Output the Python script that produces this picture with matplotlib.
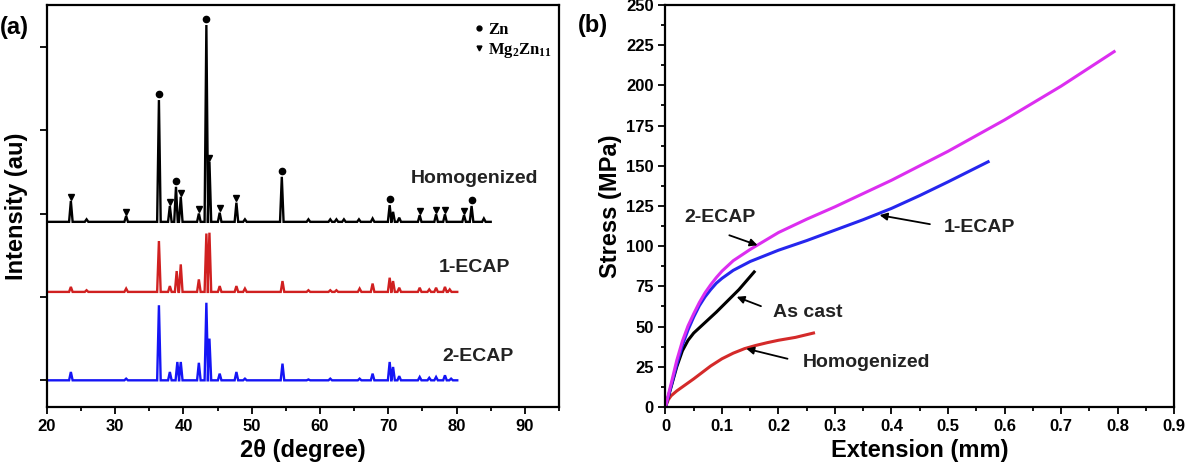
import matplotlib
matplotlib.use("Agg")
import matplotlib.pyplot as plt
from matplotlib.lines import Line2D
from matplotlib.ticker import MultipleLocator

plt.rcParams['font.family'] = ['Liberation Sans', 'DejaVu Sans']
plt.rcParams['font.weight'] = 'bold'
plt.rcParams['mathtext.fontset'] = 'custom'
plt.rcParams['mathtext.rm'] = 'Liberation Serif:bold'
plt.rcParams['mathtext.it'] = 'Liberation Serif:bold'
plt.rcParams['mathtext.bf'] = 'Liberation Serif:bold'

# ---------------------------------------------------------------------------
# (a) XRD peak lists: 2theta position, intensity above the pattern baseline
# ---------------------------------------------------------------------------
hom_base = 1.90
hom_end = 85.0
hom_pos = [23.5, 25.8, 31.6, 36.4, 38.0, 38.9, 39.6, 42.25, 43.35, 43.8, 45.3,
           47.75, 49.0, 54.4, 58.3, 61.5, 62.4, 63.5, 65.7, 67.7, 70.2, 70.7,
           71.6, 74.6, 77.0, 78.3, 81.1, 82.2, 84.0]
hom_int = [0.25, 0.03, 0.07, 1.46, 0.19, 0.42, 0.30, 0.10, 2.36, 0.72, 0.11,
           0.23, 0.03, 0.54, 0.03, 0.03, 0.03, 0.03, 0.03, 0.04, 0.20, 0.12,
           0.05, 0.08, 0.09, 0.09, 0.08, 0.19, 0.04]

ecap1_base = 1.06
ecap1_end = 80.1
ecap1_pos = [23.5, 25.8, 31.6, 36.4, 38.0, 39.0, 39.6, 42.25, 43.35, 43.8, 45.3,
             47.75, 49.0, 54.5, 58.3, 61.5, 62.4, 65.8, 67.7, 70.2, 70.7, 71.6,
             74.6, 76.0, 77.0, 78.3, 79.0]
ecap1_int = [0.06, 0.02, 0.04, 0.61, 0.07, 0.25, 0.33, 0.15, 0.70, 0.71, 0.07,
             0.07, 0.04, 0.13, 0.02, 0.02, 0.02, 0.04, 0.10, 0.17, 0.13, 0.05,
             0.05, 0.03, 0.05, 0.06, 0.03]

ecap2_base = 0.0
ecap2_end = 80.1
ecap2_pos = [23.5, 31.6, 36.4, 38.0, 39.1, 39.6, 42.25, 43.35, 43.8, 45.3,
             47.75, 49.0, 54.5, 58.3, 61.5, 65.8, 67.7, 70.2, 70.7, 71.6,
             74.6, 76.0, 77.0, 78.3, 79.2]
ecap2_int = [0.10, 0.02, 0.90, 0.10, 0.22, 0.22, 0.21, 0.93, 0.50, 0.08,
             0.10, 0.02, 0.20, 0.01, 0.02, 0.02, 0.08, 0.22, 0.16, 0.05,
             0.04, 0.03, 0.04, 0.06, 0.02]

zn_peaks = [36.4, 38.9, 43.35, 54.4, 70.2, 82.2]
mg_peaks = [23.5, 31.6, 38.0, 39.6, 42.25, 43.8, 45.3, 47.75, 74.6, 77.0,
            78.3, 81.1]

# ---------------------------------------------------------------------------
# (b) tensile curves (extension mm, stress MPa)
# ---------------------------------------------------------------------------
hom_x = [0, 0.005, 0.01, 0.02, 0.03, 0.05, 0.065, 0.08, 0.1, 0.12, 0.14,
         0.16, 0.18, 0.2, 0.23, 0.262]
hom_y = [0, 4.5, 7, 10, 12.5, 17.5, 21.5, 25.5, 30, 33.5, 36.3, 38.3, 40,
         41.5, 43.3, 46]
cast_x = [0, 0.01, 0.02, 0.03, 0.04, 0.05, 0.07, 0.09, 0.11, 0.13, 0.157]
cast_y = [0, 12.5, 25, 35, 41.5, 46, 52.5, 59, 66, 73, 84]
e1_x = [0, 0.005, 0.01, 0.02, 0.03, 0.04, 0.05, 0.06, 0.07, 0.08, 0.09, 0.1,
        0.12, 0.15, 0.2, 0.25, 0.3, 0.35, 0.4, 0.45, 0.5, 0.571]
e1_y = [0, 6.5, 13, 26.5, 38.5, 48, 56, 63, 68.5, 73, 77, 80, 85, 90.5, 97.5,
        103.5, 110, 116.5, 123.5, 131.5, 140, 152.5]
e2_x = [0, 0.005, 0.01, 0.02, 0.03, 0.04, 0.05, 0.06, 0.07, 0.08, 0.09, 0.1,
        0.12, 0.15, 0.2, 0.25, 0.3, 0.4, 0.5, 0.6, 0.7, 0.794]
e2_y = [0, 7.5, 14.5, 29, 41, 50.5, 58, 65, 71, 76, 80.5, 84.5, 91, 98,
        108.5, 116.8, 124.5, 141, 159, 178.5, 199.5, 221]


def stick_profile(pos, inten, base, end, w=0.26):
    """Baseline from 20 deg to `end` with a narrow triangular peak per entry."""
    xs, ys = [20.0], [base]
    for p, h in sorted(zip(pos, inten)):
        xs += [p - w, p, p + w]
        ys += [base, base + h, base]
    xs.append(end)
    ys.append(base)
    return xs, ys


def style_axes(ax):
    for s in ax.spines.values():
        s.set_linewidth(1.6)
    ax.tick_params(which='both', direction='out', width=1.3, labelsize=12)
    ax.tick_params(which='major', length=5)
    ax.tick_params(which='minor', length=3)
    for lab in ax.get_xticklabels() + ax.get_yticklabels():
        lab.set_fontweight('bold')


fig = plt.figure(figsize=(11.86, 4.66), dpi=100)
ax_a = fig.add_axes([0.0396, 0.1266, 0.4317, 0.8627])
ax_b = fig.add_axes([0.5611, 0.1266, 0.4288, 0.8627])

# ---- panel (a) ----
for pos, inten, base, end, col in [
        (hom_pos, hom_int, hom_base, hom_end, 'black'),
        (ecap1_pos, ecap1_int, ecap1_base, ecap1_end, '#d02020'),
        (ecap2_pos, ecap2_int, ecap2_base, ecap2_end, '#1515f5')]:
    xs, ys = stick_profile(pos, inten, base, end)
    ax_a.plot(xs, ys, color=col, lw=1.7, solid_joinstyle='miter')

zn_y = [hom_base + hom_int[hom_pos.index(p)] + 0.07 for p in zn_peaks]
mg_y = [hom_base + hom_int[hom_pos.index(p)] + 0.05 for p in mg_peaks]
ax_a.plot(zn_peaks, zn_y, 'o', color='black', ms=4.5, ls='none')
ax_a.plot(mg_peaks, mg_y, 'v', color='black', ms=4.5, ls='none')

for txt, x, y in [('Homogenized', 82.6, 2.42), ('1-ECAP', 82.6, 1.35),
                  ('2-ECAP', 83.2, 0.29)]:
    ax_a.text(x, y, txt, ha='center', va='center', fontsize=14,
              fontweight='bold', color='#222222')

handles = [
    Line2D([0], [0], marker='o', color='black', ls='none', ms=3.5, label='Zn'),
    Line2D([0], [0], marker='v', color='black', ls='none', ms=3.5,
           label=r'Mg$_{2}$Zn$_{11}$'),
]
ax_a.legend(handles=handles, loc='upper right', bbox_to_anchor=(1.0, 0.975),
            frameon=False, handlelength=0.5, handletextpad=0.3,
            labelspacing=0.2, borderaxespad=0.0,
            prop={'family': 'Liberation Serif', 'weight': 'bold', 'size': 12})

ax_a.set_xlim(20, 95)
ax_a.set_ylim(-0.32, 4.5)
ax_a.xaxis.set_major_locator(MultipleLocator(10))
ax_a.xaxis.set_minor_locator(MultipleLocator(5))
ax_a.set_yticks([0, 1, 2, 3, 4])
ax_a.set_yticklabels([])
ax_a.set_xlabel('2θ (degree)', fontsize=17, fontweight='bold', labelpad=4)
ax_a.set_ylabel('Intensity (au)', fontsize=17, fontweight='bold', labelpad=5)
style_axes(ax_a)

# ---- panel (b) ----
ax_b.plot(hom_x, hom_y, color='#d42a2a', lw=2.2)
ax_b.plot(cast_x, cast_y, color='black', lw=2.2)
ax_b.plot(e1_x, e1_y, color='#2626ee', lw=2.2)
ax_b.plot(e2_x, e2_y, color='#dc2ef0', lw=2.2)

arrow = dict(arrowstyle='-|>', color='black', lw=1.3, mutation_scale=11,
             shrinkA=0, shrinkB=0)
ax_b.annotate('', xy=(0.163, 100.6), xytext=(0.113, 106.8), arrowprops=arrow)
ax_b.annotate('', xy=(0.379, 119.3), xytext=(0.468, 113.7), arrowprops=arrow)
ax_b.annotate('', xy=(0.126, 68.5), xytext=(0.169, 62.7), arrowprops=arrow)
ax_b.annotate('', xy=(0.143, 36.3), xytext=(0.216, 30.0), arrowprops=arrow)
for txt, x, y in [('2-ECAP', 0.096, 118), ('1-ECAP', 0.555, 111.4),
                  ('As cast', 0.252, 59), ('Homogenized', 0.355, 27.4)]:
    ax_b.text(x, y, txt, ha='center', va='center', fontsize=14,
              fontweight='bold', color='#222222')

ax_b.set_xlim(0, 0.9)
ax_b.set_ylim(0, 250)
ax_b.xaxis.set_major_locator(MultipleLocator(0.1))
ax_b.xaxis.set_minor_locator(MultipleLocator(0.05))
ax_b.yaxis.set_major_locator(MultipleLocator(25))
ax_b.yaxis.set_minor_locator(MultipleLocator(12.5))
ax_b.xaxis.set_major_formatter(lambda v, p: '0' if abs(v) < 1e-9 else f'{v:.1f}')
ax_b.set_xlabel('Extension (mm)', fontsize=17, fontweight='bold', labelpad=4)
ax_b.set_ylabel('Stress (MPa)', fontsize=17, fontweight='bold', labelpad=3)
style_axes(ax_b)

fig.text(0.0, 0.942, '(a)', ha='left', va='center', fontsize=17,
         fontweight='bold')
fig.text(0.5, 0.946, '(b)', ha='center', va='center', fontsize=17,
         fontweight='bold')

fig.savefig('out.png', dpi=100)
